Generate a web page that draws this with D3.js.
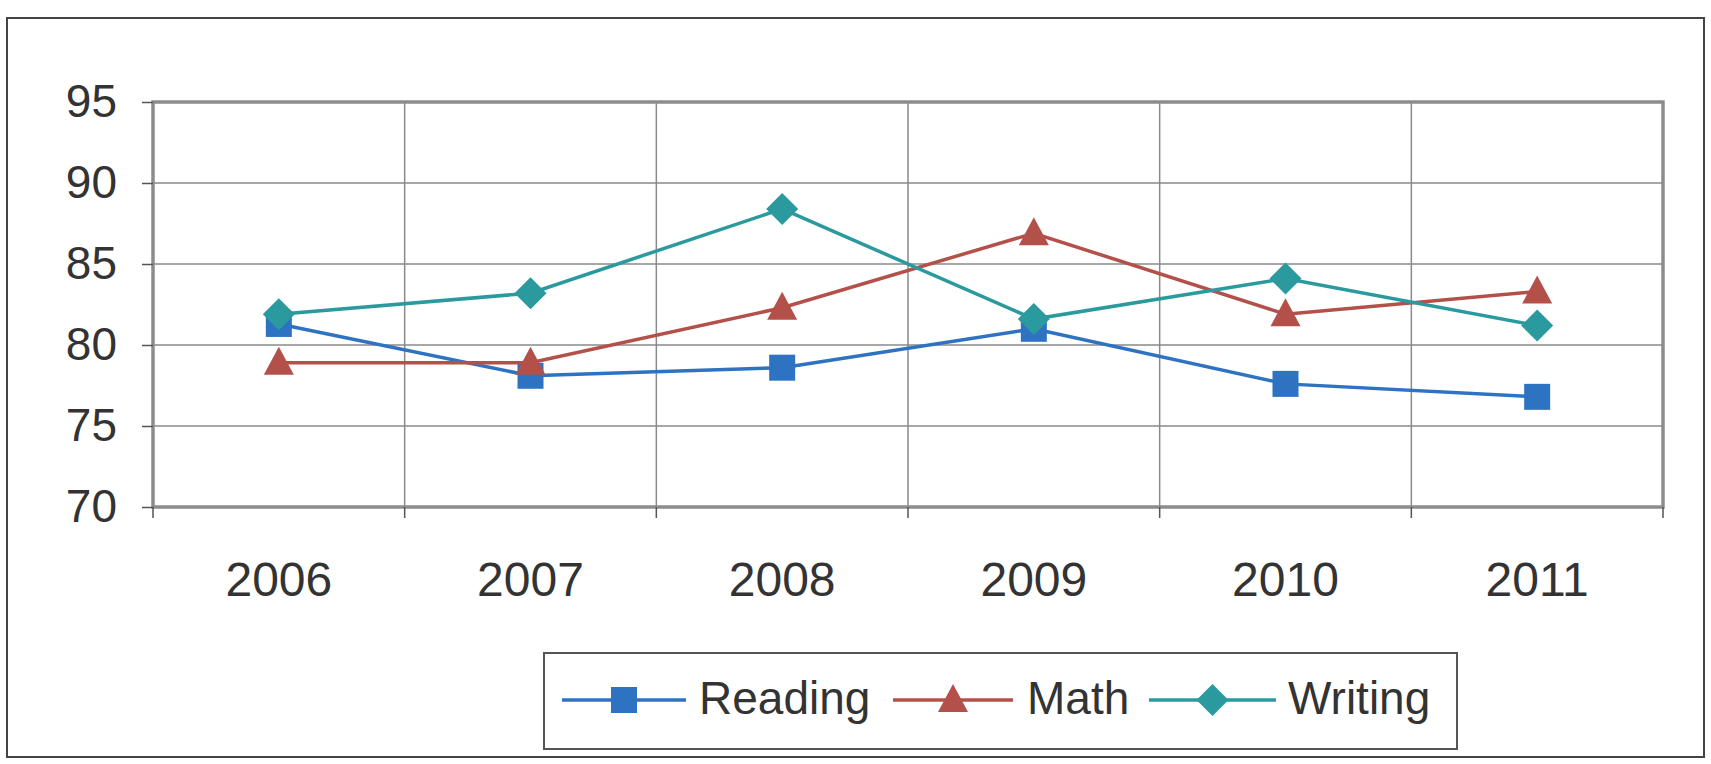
<!DOCTYPE html>
<html><head><meta charset="utf-8">
<script src="https://cdn.jsdelivr.net/npm/d3@7"></script>
<style>
html,body{margin:0;padding:0;background:#fff;}
svg{display:block;}
text{font-family:"Liberation Sans",Arial,sans-serif;fill:#333;}
</style></head>
<body>
<svg id="c" width="1711" height="764"></svg>
<script>
const categories = ["2006","2007","2008","2009","2010","2011"];
const reading = [81.3, 78.1, 78.6, 81.0, 77.6, 76.8];
const math    = [78.9, 78.9, 82.3, 86.9, 81.9, 83.3];
const writing = [81.9, 83.2, 88.4, 81.6, 84.1, 81.2];
const yTicks  = [70, 75, 80, 85, 90, 95];
const seriesNames = ["Reading","Math","Writing"];

const svg = d3.select("#c");
const L = 153, R = 1663, T = 102, B = 507;

// outer border
svg.append("rect").attr("x",7).attr("y",18).attr("width",1697).attr("height",739)
  .attr("fill","none").attr("stroke","#444").attr("stroke-width",2);

const x = d3.scaleBand().domain(categories).range([L,R]).padding(0);
const y = d3.scaleLinear().domain([70,95]).range([B,T]);

// horizontal gridlines
svg.append("g").selectAll("line").data(yTicks).join("line")
  .attr("x1",L).attr("x2",R).attr("y1",d=>y(d)).attr("y2",d=>y(d))
  .attr("stroke","#8a8a8a").attr("stroke-width",1.5);
// vertical gridlines at category boundaries
const bounds = categories.slice(1).map(c=>x(c));
svg.append("g").selectAll("line").data(bounds).join("line")
  .attr("x1",d=>d).attr("x2",d=>d).attr("y1",T).attr("y2",B)
  .attr("stroke","#8a8a8a").attr("stroke-width",1.5);

// plot border
svg.append("rect").attr("x",L).attr("y",T).attr("width",R-L).attr("height",B-T)
  .attr("fill","none").attr("stroke","#8c8c8c").attr("stroke-width",3.5);

// y axis
const yAxis = svg.append("g").attr("transform",`translate(${L},0)`)
  .call(d3.axisLeft(y).tickValues(yTicks).tickSize(11).tickPadding(25));
yAxis.select(".domain").remove();
yAxis.selectAll("line").attr("stroke","#555").attr("stroke-width",1.5);
yAxis.selectAll("text").style("font-size","46px").attr("fill","#333")
  .style("font-family","'Liberation Sans',Arial,sans-serif");

// x axis ticks at boundaries
const allBounds = [L, ...bounds, R];
svg.append("g").selectAll("line").data(allBounds).join("line")
  .attr("x1",d=>d).attr("x2",d=>d).attr("y1",B).attr("y2",B+11)
  .attr("stroke","#555").attr("stroke-width",1.5);
svg.append("g").selectAll("text").data(categories).join("text")
  .attr("x",d=>x(d)+x.bandwidth()/2).attr("y",596)
  .attr("text-anchor","middle").style("font-size","48px").text(d=>d);

const colors = {Reading:"#2e72c2", Math:"#b3504a", Writing:"#2b9a9f"};
const data = {Reading:reading, Math:math, Writing:writing};
const cx = i => x(categories[i]) + x.bandwidth()/2;
const line = d3.line().x((d,i)=>cx(i)).y(d=>y(d));

function marker(g, name, px, py){
  const c = colors[name];
  if(name==="Reading"){
    g.append("rect").attr("x",px-13).attr("y",py-13).attr("width",26).attr("height",26).attr("fill",c);
  } else if(name==="Math"){
    g.append("path").attr("d",`M${px},${py-16}L${px+15},${py+12}L${px-15},${py+12}Z`).attr("fill",c);
  } else {
    g.append("path").attr("d",`M${px},${py-16}L${px+16},${py}L${px},${py+16}L${px-16},${py}Z`).attr("fill",c);
  }
}

seriesNames.forEach(name=>{
  const g = svg.append("g");
  g.append("path").datum(data[name]).attr("d",line).attr("fill","none")
    .attr("stroke",colors[name]).attr("stroke-width",3.5);
  data[name].forEach((v,i)=>marker(g,name,cx(i),y(v)));
});

// legend
svg.append("rect").attr("x",544).attr("y",653).attr("width",913).attr("height",96)
  .attr("fill","none").attr("stroke","#555").attr("stroke-width",2);
const legItems = [
  {name:"Reading", x1:562, x2:686, tx:699},
  {name:"Math", x1:893, x2:1013, tx:1027},
  {name:"Writing", x1:1149, x2:1276, tx:1288}
];
legItems.forEach(it=>{
  const g = svg.append("g");
  g.append("line").attr("x1",it.x1).attr("x2",it.x2).attr("y1",700).attr("y2",700)
    .attr("stroke",colors[it.name]).attr("stroke-width",3.5);
  marker(g,it.name,(it.x1+it.x2)/2,700);
  g.append("text").attr("x",it.tx).attr("y",714).style("font-size","46px").text(it.name);
});
</script>
</body></html>
